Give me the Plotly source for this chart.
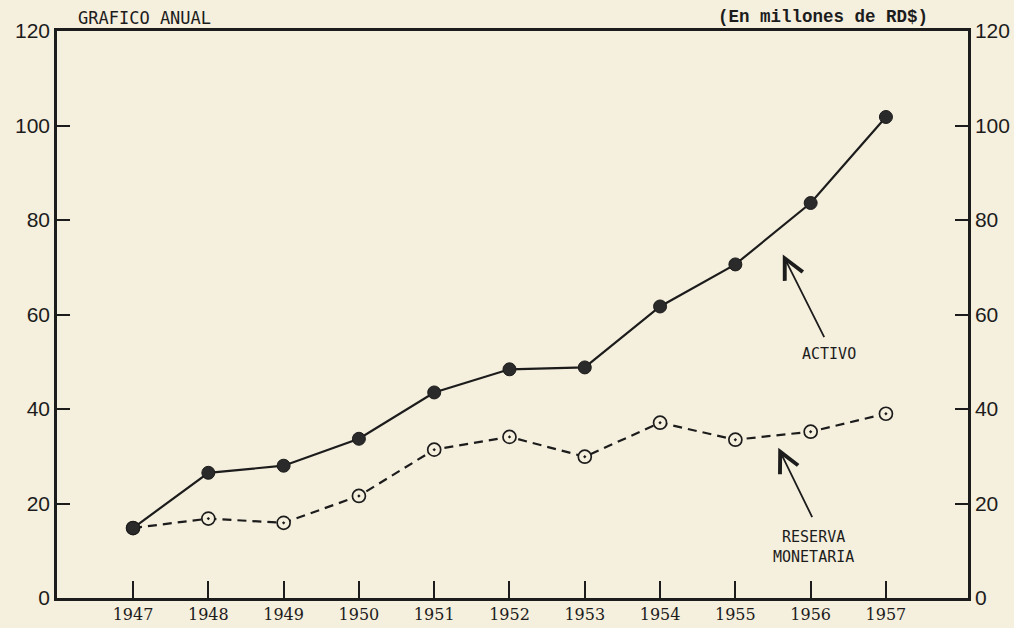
import plotly.graph_objects as go

years = [1947, 1948, 1949, 1950, 1951, 1952, 1953, 1954, 1955, 1956, 1957]
activo = [14.8, 26.5, 28.0, 33.7, 43.5, 48.4, 48.8, 61.7, 70.6, 83.6, 101.8]
reserva = [14.8, 16.8, 15.9, 21.6, 31.4, 34.1, 29.9, 37.1, 33.5, 35.2, 39.0]
y_ticks = [0, 20, 40, 60, 80, 100, 120]
x_labels = [str(y) for y in years]

BG = "#f5efdd"
INK = "#1c1c1c"

fig = go.Figure()
fig.add_trace(go.Scatter(
    x=years, y=reserva, mode="lines+markers", name="Reserva monetaria",
    line=dict(color=INK, width=2.2, dash="9px,6px"),
    marker=dict(symbol="circle-dot", size=13, color=BG, line=dict(color=INK, width=1.7)),
))
fig.add_trace(go.Scatter(
    x=years, y=activo, mode="lines+markers", name="Activo",
    line=dict(color=INK, width=2.2),
    marker=dict(symbol="circle", size=13, color="#2a2a2a", line=dict(color=INK, width=1)),
))
# invisible companion so the right-hand axis is drawn
fig.add_trace(go.Scatter(
    x=years, y=activo, yaxis="y2", mode="lines", line=dict(width=0), opacity=0,
    hoverinfo="skip", showlegend=False,
))

axis_common = dict(showline=True, linecolor=INK, linewidth=2.5, showgrid=False, zeroline=False,
                   ticks="inside", tickcolor=INK, tickwidth=2, automargin=False)
tickfont_y = dict(family="Liberation Sans", size=21, color=INK)

fig.update_layout(
    width=1014, height=628,
    margin=dict(l=57, r=46, t=31, b=30),
    paper_bgcolor=BG, plot_bgcolor=BG,
    showlegend=False,
    xaxis=dict(**axis_common, range=[1945.99, 1958.09], tickvals=years, ticktext=x_labels,
               ticklen=17, mirror=True,
               tickfont=dict(family="DejaVu Serif", size=16, color=INK)),
    yaxis=dict(**axis_common, range=[0, 120], tickvals=y_ticks, ticklen=13,
               tickfont=tickfont_y),
    yaxis2=dict(**axis_common, range=[0, 120], tickvals=y_ticks, ticklen=13,
                overlaying="y", side="right", tickfont=tickfont_y),
)

mono = dict(family="DejaVu Sans Mono", size=15, color=INK)
fig.add_annotation(text="GRAFICO ANUAL", xref="paper", yref="paper", x=0.021, y=1.0,
                   xanchor="left", yanchor="bottom", yshift=1, showarrow=False,
                   font=dict(family="DejaVu Sans Mono", size=17, color=INK))
fig.add_annotation(text="<b>(En millones de RD$)</b>", xref="paper", yref="paper", x=0.958, y=1.0,
                   xanchor="right", yanchor="bottom", yshift=2, showarrow=False,
                   font=dict(family="Liberation Mono", size=17.5, color=INK))

fig.add_annotation(x=1955.63, y=72.7, ax=1956.19, ay=54.9, xref="x", yref="y", axref="x", ayref="y",
                   text="", showarrow=True, arrowhead=5, arrowsize=2.2, arrowwidth=1.8, arrowcolor=INK)
fig.add_annotation(x=1956.24, y=51.7, xref="x", yref="y", text="ACTIVO", showarrow=False, font=mono)

fig.add_annotation(x=1955.57, y=31.8, ax=1956.03, ay=16.8, xref="x", yref="y", axref="x", ayref="y",
                   text="", showarrow=True, arrowhead=5, arrowsize=2.2, arrowwidth=1.8, arrowcolor=INK)
fig.add_annotation(x=1956.04, y=10.7, xref="x", yref="y", text="RESERVA<br>MONETARIA",
                   showarrow=False, font=mono, align="center")

fig.write_html("out.html", config={"displayModeBar": False},
               post_script="document.body.style.margin='0';document.body.style.overflow='hidden';"
                           "document.body.style.background='" + BG + "';")
